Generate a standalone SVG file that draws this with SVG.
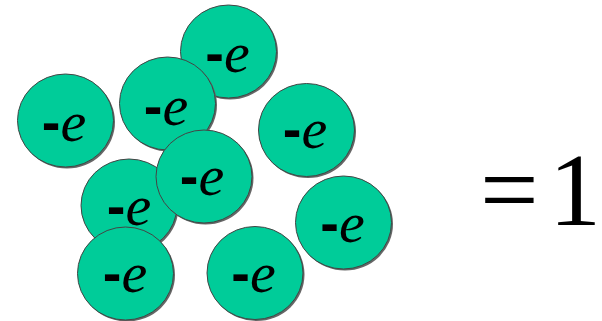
<svg xmlns="http://www.w3.org/2000/svg" width="602" height="321" viewBox="0 0 602 321">
<style>
.sh{fill:#666666}
.b{fill:#00CC99;stroke:#444444;stroke-width:1}
.t{text-anchor:middle;fill:#000}
.d{font-family:"Liberation Sans",Arial,sans-serif;font-weight:bold;font-size:56px}
.e{font-family:"Liberation Serif","Times New Roman",serif;font-style:italic;font-size:58px}
.eq{font-family:"Liberation Serif","Times New Roman",serif;font-size:104px;fill:#000}
</style>
<g id="n1"><ellipse class="sh" cx="230" cy="53" rx="48" ry="46.5"/><ellipse class="b" cx="228.5" cy="51.5" rx="48" ry="46.5"/><text class="t" x="227.5" y="72"><tspan class="d">-</tspan><tspan class="e">e</tspan></text></g>
<g id="n2"><ellipse class="sh" cx="67" cy="122" rx="48" ry="46.5"/><ellipse class="b" cx="65.5" cy="120.5" rx="48" ry="46.5"/><text class="t" x="64" y="141"><tspan class="d">-</tspan><tspan class="e">e</tspan></text></g>
<g id="n3"><ellipse class="sh" cx="169" cy="105" rx="48" ry="46.5"/><ellipse class="b" cx="167.5" cy="103.5" rx="48" ry="46.5"/><text class="t" x="166" y="125"><tspan class="d">-</tspan><tspan class="e">e</tspan></text></g>
<g id="n4"><ellipse class="sh" cx="308" cy="131.5" rx="48" ry="46.5"/><ellipse class="b" cx="306.5" cy="130" rx="48" ry="46.5"/><text class="t" x="305" y="148"><tspan class="d">-</tspan><tspan class="e">e</tspan></text></g>
<g id="n5"><ellipse class="sh" cx="130.5" cy="207" rx="48" ry="46.5"/><ellipse class="b" cx="129" cy="205.5" rx="48" ry="46.5"/><text class="t" x="129" y="225"><tspan class="d">-</tspan><tspan class="e">e</tspan></text></g>
<g id="n6"><ellipse class="sh" cx="205.5" cy="178" rx="48" ry="46.5"/><ellipse class="b" cx="204" cy="176.5" rx="48" ry="46.5"/><text class="t" x="202" y="195"><tspan class="d">-</tspan><tspan class="e">e</tspan></text></g>
<g id="n7"><ellipse class="sh" cx="127" cy="275" rx="48" ry="46.5"/><ellipse class="b" cx="125.5" cy="273.5" rx="48" ry="46.5"/><text class="t" x="125" y="292"><tspan class="d">-</tspan><tspan class="e">e</tspan></text></g>
<g id="n8"><ellipse class="sh" cx="256.5" cy="274.5" rx="48" ry="46.5"/><ellipse class="b" cx="255" cy="273" rx="48" ry="46.5"/><text class="t" x="253.5" y="292"><tspan class="d">-</tspan><tspan class="e">e</tspan></text></g>
<g id="n9"><ellipse class="sh" cx="345" cy="224" rx="48" ry="46.5"/><ellipse class="b" cx="343.5" cy="222.5" rx="48" ry="46.5"/><text class="t" x="342.5" y="242"><tspan class="d">-</tspan><tspan class="e">e</tspan></text></g>
<g id="eq"><text class="eq" x="480" y="225">=<tspan x="549">1</tspan></text></g>
</svg>
